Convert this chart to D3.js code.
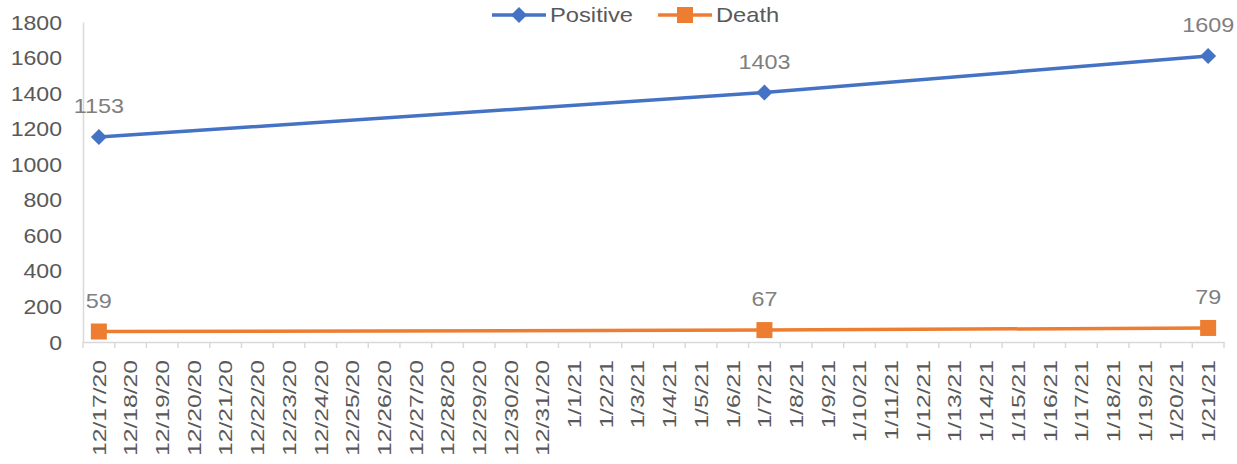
<!DOCTYPE html>
<html>
<head>
<meta charset="utf-8">
<script src="https://cdn.jsdelivr.net/npm/d3@7"></script>
<style>
  body { margin: 0; background: #fff; }
  text { font-family: Arial, "Liberation Sans", sans-serif; }
</style>
</head>
<body>
<svg id="chart" width="1237" height="464"></svg>
<script>
// every date on the axis
const dates = ["12/17/20","12/18/20","12/19/20","12/20/20","12/21/20","12/22/20","12/23/20",
  "12/24/20","12/25/20","12/26/20","12/27/20","12/28/20","12/29/20","12/30/20","12/31/20",
  "1/1/21","1/2/21","1/3/21","1/4/21","1/5/21","1/6/21","1/7/21","1/8/21","1/9/21","1/10/21",
  "1/11/21","1/12/21","1/13/21","1/14/21","1/15/21","1/16/21","1/17/21","1/18/21","1/19/21",
  "1/20/21","1/21/21"];

// only these days have reported values
const reportDates = ["12/17/20", "1/7/21", "1/21/21"];
const positive = [1153, 1403, 1609];
const death = [59, 67, 79];
const yTicks = [0, 200, 400, 600, 800, 1000, 1200, 1400, 1600, 1800];

const svg = d3.select("#chart");
const margin = {left: 83, right: 13, top: 22, bottom: 122};
const width = 1237;
const height = 464;

const x = d3.scaleBand()
  .domain(dates)
  .range([margin.left, width - margin.right]);

const y = d3.scaleLinear()
  .domain([0, 1800])
  .range([height - margin.bottom, margin.top]);

const axisColor = "#d9d9d9";
const textColor = "#595959";

// the source font is wider than Arial, so stretch text horizontally
const label = (g, px, py, txt, opts) => {
  return g.append("text")
    .attr("transform", `translate(${px},${py})${opts.rotate ? " rotate(-90)" : ""} scale(${opts.sx},1)`)
    .attr("text-anchor", opts.anchor || "middle")
    .attr("dy", opts.dy || 0)
    .attr("fill", opts.color || textColor)
    .style("font-size", opts.size + "px")
    .text(txt);
};

// y axis
const yAxis = svg.append("g")
    .attr("transform", `translate(${margin.left},0)`)
    .call(d3.axisLeft(y).tickValues(yTicks).tickSize(0).tickFormat(""));
yAxis.select(".domain").attr("stroke", axisColor).attr("stroke-width", 1.5);

const yLabels = svg.append("g");
yTicks.forEach((t) => {
  label(yLabels, margin.left - 21, y(t), t, {anchor: "end", dy: "0.36em", size: 21, sx: 1.1});
});

// x axis with ticks between categories
const xAxis = svg.append("g")
    .attr("transform", `translate(0,${y(0)})`)
    .call(d3.axisBottom(x).tickSize(0).tickSizeOuter(0).tickFormat(""));
xAxis.select(".domain").attr("stroke", axisColor).attr("stroke-width", 1.5);

svg.append("g")
  .selectAll("line")
  .data(dates.concat([null]))
  .enter().append("line")
    .attr("x1", (d, i) => margin.left + i * x.step())
    .attr("x2", (d, i) => margin.left + i * x.step())
    .attr("y1", y(0))
    .attr("y2", y(0) + 6)
    .attr("stroke", axisColor)
    .attr("stroke-width", 1.5);

const cx = (d) => x(d) + x.bandwidth() / 2;

const xLabels = svg.append("g");
dates.forEach((d) => {
  label(xLabels, cx(d), y(0) + 18, d, {anchor: "end", dy: "0.36em", size: 19, sx: 1.3, rotate: true});
});

const series = [
  {name: "Positive", values: positive, color: "#4472c4", symbol: "diamond"},
  {name: "Death", values: death, color: "#ed7d31", symbol: "square"}
];

const drawMarker = (g, s, px, py) => {
  if (s.symbol === "diamond") {
    g.append("path")
      .attr("d", `M${px},${py - 8}L${px + 8},${py}L${px},${py + 8}L${px - 8},${py}Z`)
      .attr("fill", s.color);
  } else {
    g.append("rect")
      .attr("x", px - 8).attr("y", py - 8)
      .attr("width", 16).attr("height", 16)
      .attr("fill", s.color);
  }
};

series.forEach((s) => {
  const pts = reportDates.map((d, i) => [cx(d), y(s.values[i])]);
  const g = svg.append("g");

  g.append("path")
    .attr("d", d3.line()(pts))
    .attr("fill", "none")
    .attr("stroke", s.color)
    .attr("stroke-width", 3.5);

  pts.forEach((p, i) => {
    drawMarker(g, s, p[0], p[1]);
    label(g, p[0], p[1] - 24, s.values[i], {size: 20, sx: 1.17, color: "#7f7f7f"});
  });
});

// legend
const legendItems = [
  {x: 492, s: series[0]},
  {x: 658, s: series[1]}
];
legendItems.forEach((item) => {
  const g = svg.append("g");
  g.append("line")
    .attr("x1", item.x).attr("x2", item.x + 54)
    .attr("y1", 15).attr("y2", 15)
    .attr("stroke", item.s.color)
    .attr("stroke-width", 3.5);
  drawMarker(g, item.s, item.x + 27, 15);
  label(g, item.x + 58, 22, item.s.name, {anchor: "start", size: 21, sx: 1.13});
});
</script>
</body>
</html>
